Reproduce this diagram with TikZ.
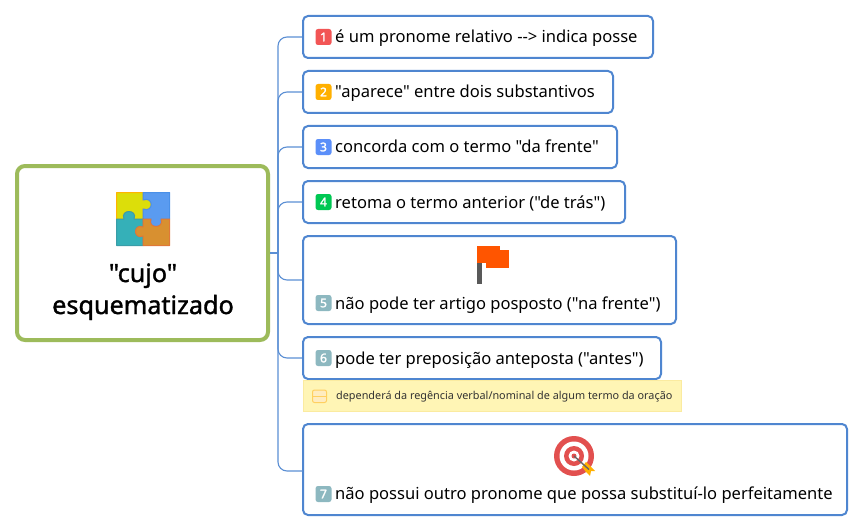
\documentclass[tikz,border=0pt]{standalone}
\usepackage{fontspec}
\newfontfamily\basef{Noto Sans}
\newfontfamily\semib[FakeBold=1.4]{Noto Sans}
\newfontfamily\markf[FakeBold=2]{Noto Sans}
\definecolor{boxblue}{HTML}{4F86D0}
\definecolor{linkblue}{HTML}{5B8FD4}
\definecolor{olive}{HTML}{9DBB5B}
\definecolor{notefill}{HTML}{FFF5B5}
\definecolor{noteline}{HTML}{FBEBA0}
\definecolor{mred}{HTML}{F25555}
\definecolor{myellow}{HTML}{FFB000}
\definecolor{mblue}{HTML}{5B8FF9}
\definecolor{mgreen}{HTML}{00C853}
\definecolor{mteal}{HTML}{8DB8C0}
\definecolor{flagc}{HTML}{FF5500}
\definecolor{tred}{HTML}{E2504F}
\definecolor{iconline}{HTML}{FFD060}
\definecolor{iconfill}{HTML}{FFECC0}
\tikzset{
  topicbox/.style={draw=boxblue,line width=2pt,rounded corners=5pt,fill=white,anchor=north west,inner sep=0pt},
  rootbox/.style={draw=olive,line width=4pt,rounded corners=8pt,fill=white,anchor=north west,inner sep=0pt},
  notebox/.style={draw=noteline,line width=1pt,fill=notefill,anchor=north west,inner sep=0pt},
  link/.style={draw=linkblue,line width=1.1pt,rounded corners=9pt},
  topictext/.style={anchor=base west,inner sep=0pt,font=\fontsize{16.55}{19}\basef,text=black},
  roottext/.style={anchor=base,inner sep=0pt,font=\fontsize{25.2}{28}\semib,text=black},
  notetext/.style={anchor=base west,inner sep=0pt,font=\fontsize{10.85}{13}\basef,text=black!80},
  marker/.style={fill=#1,rounded corners=2.5pt,minimum width=16pt,minimum height=16pt,inner sep=0pt,anchor=center,text=white,font=\fontsize{12}{13}\markf},
}
\begin{document}
\begin{tikzpicture}[x=1pt,y=-1pt]
\useasboundingbox (0,0) rectangle (864,532);
\fill[white] (0,0) rectangle (864,532);

\node[rootbox,minimum width=251pt,minimum height=174pt] (root) at (15,164) {};
\node[topicbox,minimum width=350pt,minimum height=42pt] (b1) at (302,15) {};
\node[topicbox,minimum width=310pt,minimum height=42pt] (b2) at (302,70) {};
\node[topicbox,minimum width=314pt,minimum height=42pt] (b3) at (302,125) {};
\node[topicbox,minimum width=322pt,minimum height=42pt] (b4) at (302,180) {};
\node[topicbox,minimum width=373pt,minimum height=88pt] (b5) at (302,235) {};
\node[topicbox,minimum width=358pt,minimum height=42pt] (b6) at (302,336) {};
\node[notebox,minimum width=378pt,minimum height=31pt] (note) at (303,380) {};
\node[topicbox,minimum width=544pt,minimum height=91pt] (b7) at (302,423) {};

\coordinate (j) at (278,253);
\coordinate (b7in) at (303,471);
\draw[draw=linkblue,line width=1.1pt] (root.east |- j) -- (j);
\foreach \b in {b1,b2,b3,b4,b5,b6,b7in}{
  \draw[link] (j) |- (\b);
}

% puzzle icon
\begin{scope}[line width=1pt,line join=round]
\filldraw[fill={rgb,255:red,220;green,222;blue,10},draw={rgb,255:red,255;green,180;blue,0}]
  (116.5,192.5) -- (143,192.5) -- (143,200) .. controls (154,196) and (154,213) .. (143,209) -- (143,219)
  -- (134,219) .. controls (138,209) and (120,209) .. (124,219) -- (116.5,219) -- cycle;
\filldraw[fill={rgb,255:red,90;green,155;blue,240},draw={rgb,255:red,74;green,144;blue,232}]
  (143,192.5) -- (169.5,192.5) -- (169.5,219) -- (161,219) .. controls (165,229) and (147,229) .. (151,219)
  -- (143,219) -- (143,209) .. controls (154,213) and (154,196) .. (143,200) -- cycle;
\filldraw[fill={rgb,255:red,53;green,176;blue,184},draw={rgb,255:red,58;green,157;blue,168}]
  (116.5,219) -- (124,219) .. controls (120,209) and (138,209) .. (134,219) -- (143,219) -- (143,227)
  .. controls (133,223) and (133,240) .. (143,236) -- (143,245.5) -- (116.5,245.5) -- cycle;
\filldraw[fill={rgb,255:red,216;green,144;blue,48},draw={rgb,255:red,224;green,120;blue,56}]
  (143,219) -- (151,219) .. controls (147,229) and (165,229) .. (161,219) -- (169.5,219) -- (169.5,245.5)
  -- (143,245.5) -- (143,236) .. controls (133,240) and (133,223) .. (143,227) -- cycle;
\end{scope}

% flag icon
\fill[black!65] (477,262) rectangle (482,283.5);
\fill[flagc] (477,246) rectangle (500,263);
\fill[flagc] (486,250) rectangle (509,268);

% target icon
\fill[tred] (574,456) circle (20);
\fill[white] (574,456) circle (14.5);
\fill[tred] (574,456) circle (10);
\fill[white] (574,456) circle (5.5);
\fill[tred] (574,456) circle (2.5);
\fill[myellow] (582,467) -- (586,462) -- (589,465) -- (595,471) -- (591,471) -- (590,476) -- (586,472) -- cycle;
\draw[black!60,line width=1.4pt] (574,456) -- (589,469.5);

% note icon
\draw[iconline,line width=1pt,fill=iconfill,rounded corners=2pt] (312.5,390) rectangle (326.5,402.5);
\draw[iconline,line width=1pt] (312.5,396.3) -- (326.5,396.3);

% markers
\node[marker=mred] (m1) at (323.5,37) {1};
\node[marker=myellow] (m2) at (323.5,92) {2};
\node[marker=mblue] (m3) at (323.5,147) {3};
\node[marker=mgreen] (m4) at (323.5,202) {4};
\node[marker=mteal] (m5) at (323.5,303) {5};
\node[marker=mteal] (m6) at (323.5,358) {6};
\node[marker=mteal] (m7) at (323.5,494) {7};

% texts
\node[roottext] (r1) at (143,282) {"cujo"};
\node[roottext] (r2) at (143,314) {esquematizado};
\node[topictext] (t1) at (335,43) {é um pronome relativo --> indica posse};
\node[topictext] (t2) at (335,98) {"aparece" entre dois substantivos};
\node[topictext] (t3) at (335,153) {concorda com o termo "da frente"};
\node[topictext] (t4) at (335,208) {retoma o termo anterior ("de trás")};
\node[topictext] (t5) at (335,309) {não pode ter artigo posposto ("na frente")};
\node[topictext] (t6) at (335,364) {pode ter preposição anteposta ("antes")};
\node[notetext] (tn) at (336,399) {dependerá da regência verbal/nominal de algum termo da oração};
\node[topictext] (t7) at (335,499) {não possui outro pronome que possa substituí-lo perfeitamente};
\end{tikzpicture}
\end{document}
